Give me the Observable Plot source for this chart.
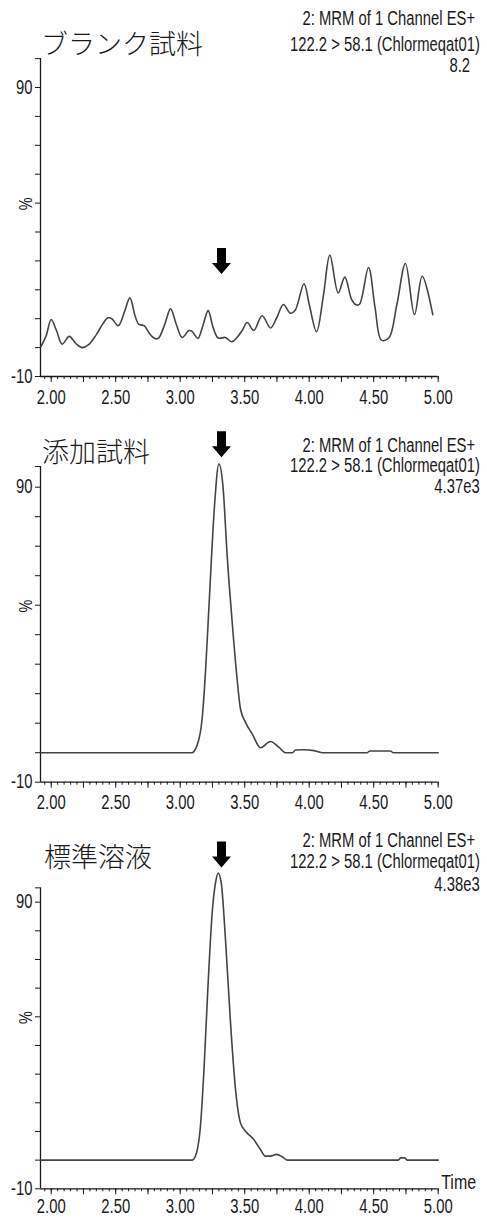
<!DOCTYPE html>
<html><head><meta charset="utf-8">
<script src="https://cdn.jsdelivr.net/npm/d3@7"></script>
<script src="https://cdn.jsdelivr.net/npm/@observablehq/plot@0.6"></script>
<style>
html,body{margin:0;padding:0;background:#fff;}
#wrap{position:relative;width:487px;height:1222px;overflow:hidden;background:#fff;}
.panel{position:absolute;left:0;}
.title{position:absolute;font-family:"Noto Sans CJK JP",sans-serif;font-weight:300;font-size:27px;line-height:1;color:#1a1a1a;white-space:nowrap;}
.hdr{position:absolute;font-size:19.5px;line-height:1;color:#1a1a1a;white-space:nowrap;transform-origin:right center;}
</style></head><body><div id="wrap"></div>
<script>
// ---------------- data ----------------
const panelTitles = ["ブランク試料", "添加試料", "標準溶液"];
const headerLine1 = "2: MRM of 1 Channel ES+";
const headerLine2 = "122.2 > 58.1 (Chlormeqat01)";
const intensities = ["8.2", "4.37e3", "4.38e3"];

const blankTime = [1.92,1.96,2.00,2.04,2.085,2.14,2.19,2.24,2.29,2.35,2.40,2.44,2.47,2.52,2.565,2.61,2.65,2.68,2.72,2.76,2.80,2.83,2.88,2.925,2.97,3.015,3.067,3.09,3.137,3.175,3.217,3.255,3.295,3.35,3.40,3.44,3.48,3.52,3.57,3.635,3.70,3.75,3.80,3.855,3.89,3.96,4.00,4.057,4.11,4.16,4.225,4.276,4.33,4.364,4.39,4.46,4.51,4.56,4.617,4.68,4.746,4.816,4.876,4.958];
const blankPct  = [0.3,4,9.7,6,1.2,3.9,1.5,0,1,4.5,8.2,10.3,10,7.6,12,17.2,11,8,7.6,5,3.2,3.2,8,13.4,8,3.5,5.9,5.7,3.2,7.5,12.8,7,3.3,3.5,2,3.5,5.9,8.7,5.9,11,6.8,10.5,14.9,11.9,12.8,22.1,15,5.5,18,32,18.9,24.4,16.5,14.8,15,27.7,14,2.6,3.3,15,29.1,11.4,24.7,11.4];

const spikedTime = [1.92,3.09,3.13,3.17,3.196,3.23,3.266,3.30,3.333,3.364,3.403,3.436,3.467,3.506,3.558,3.622,3.70,3.764,3.816,3.87,3.894,3.958,4.036,4.10,4.45,4.47,4.63,4.65,5.00];
const spikedPct  = [0,0,2.4,11.5,27.3,55.6,83.8,97.9,89.5,66.8,44.2,27.3,14.9,10.3,6.4,1.7,3.8,1.9,0,0,0.9,1,0.7,0,0,0.6,0.6,0,0];

const standardTime = [1.92,3.093,3.126,3.157,3.183,3.214,3.248,3.274,3.294,3.318,3.351,3.39,3.429,3.467,3.506,3.57,3.622,3.66,3.70,3.747,3.79,3.83,4.69,4.71,4.74,4.76,5.00];
const standardPct  = [0,0,2.5,11.9,30.5,59.5,86.3,96.8,100.2,96.8,77,47.9,24.6,13,10.1,7.2,3.7,1.4,1.4,2.0,1.2,0,0,0.8,0.8,0,0];

const arrowTime = 3.32;
const arrowPct = [30, 104.6, 106.6];
const axisTopPct = [100, 97, 95];
const xDomain = [1.917, 5.0];
const yDomain = [-10, 100];
const xLabelTicks = [2.0, 2.5, 3.0, 3.5, 4.0, 4.5, 5.0];
const yLabelTicks = [-10, 90];
const percentAt = 47.5;

// ---------------- fonts ----------------
const SANS = '"Liberation Sans", Arial, sans-serif';
const SQUEEZE = 0.76;

// ---------------- layout ----------------
const W = 487;
const panels = [
  {top: 0,   h: 410, mt: 58.1, mb: 34,   pad: 8, curve: "catmull-rom", title: {x: 41, cy: 42.5}, hdr: [[18.3, 475], [44, 480], [65.5, 470]]},
  {top: 410, h: 410, mt: 47.2, mb: 38.3, pad: 7, curve: "monotone-x",  title: {x: 42, cy: 451},  hdr: [[445, 475], [465.5, 480], [486, 480]]},
  {top: 820, h: 402, mt: 53,   mb: 33.7, pad: 4, curve: "monotone-x",  title: {x: 44, cy: 856},  hdr: [[840, 475], [861, 480], [884, 480]]}
];
const series = [[blankTime, blankPct], [spikedTime, spikedPct], [standardTime, standardPct]];

const arrowSymbol = {
  draw(ctx) {
    ctx.moveTo(-4.5, -13); ctx.lineTo(4.5, -13); ctx.lineTo(4.5, 2);
    ctx.lineTo(9.5, 2); ctx.lineTo(0, 13); ctx.lineTo(-9.5, 2);
    ctx.lineTo(-4.5, 2); ctx.closePath();
  }
};

const minorX = d3.range(39, 101).map(i => i / 20);
const majorX = d3.range(0, 13).map(i => 2 + i * 0.25);
const isLabel = d => xLabelTicks.some(v => Math.abs(v - d) < 1e-9);
const axisColor = "#1a1a1a";
const lineColor = "#444";

const wrap = document.getElementById("wrap");

panels.forEach((p, i) => {
  const [tt, pp] = series[i];
  const rows = tt.map((t, k) => ({t, v: pp[k]}));
  const yTicks = d3.range(-10, 91, 10).concat([axisTopPct[i]]);
  const marks = [
    Plot.ruleY([yDomain[0]], {stroke: axisColor, strokeWidth: 1.3}),
    Plot.ruleX([xDomain[0]], {y1: yDomain[0], y2: axisTopPct[i], stroke: axisColor, strokeWidth: 1.3}),
    Plot.axisY({ticks: yTicks, tickSize: 5, tickPadding: 3, label: null, stroke: axisColor,
      tickFormat: d => yLabelTicks.includes(d) ? String(d) : ""}),
    Plot.axisX({ticks: minorX, tickSize: 3, label: null, stroke: axisColor, tickFormat: () => ""}),
    Plot.axisX({ticks: majorX, tickSize: 6, tickPadding: p.pad, label: null, stroke: axisColor,
      tickFormat: d => isLabel(d) ? d3.format(".2f")(d) : ""}),
    Plot.line(rows, {x: "t", y: "v", curve: p.curve, stroke: lineColor, strokeWidth: 1.6}),
    Plot.dot([{t: arrowTime, v: arrowPct[i]}], {x: "t", y: "v", symbol: arrowSymbol, r: 10, fill: "#000", stroke: "none"}),
    Plot.text([{v: percentAt, s: "%"}], {y: "v", text: "s", frameAnchor: "left", dx: -15, rotate: -90, fontSize: 19})
  ];
  if (i === 2) marks.push(Plot.text(["Time"], {frameAnchor: "bottom-right", textAnchor: "start", dx: 3, fontSize: 21}));
  const svg = Plot.plot({
    width: W, height: p.h,
    marginLeft: 40, marginRight: W - 437.7, marginTop: p.mt, marginBottom: p.mb,
    x: {domain: xDomain, label: null},
    y: {domain: yDomain, label: null},
    style: {fontFamily: SANS, fontSize: "19.5px", color: axisColor, background: "transparent", overflow: "visible"},
    marks
  });
  const holder = document.createElement("div");
  holder.className = "panel";
  holder.style.top = p.top + "px";
  holder.appendChild(svg);
  wrap.appendChild(holder);
  svg.querySelectorAll("text").forEach(t => {
    const L = t.getComputedTextLength();
    if (L > 0) { t.setAttribute("textLength", (L * SQUEEZE).toFixed(2)); t.setAttribute("lengthAdjust", "spacingAndGlyphs"); }
  });

  const title = document.createElement("div");
  title.className = "title";
  title.textContent = panelTitles[i];
  title.style.left = p.title.x + "px";
  title.style.top = (p.title.cy - 14) + "px";
  wrap.appendChild(title);

  [headerLine1, headerLine2, intensities[i]].forEach((txt, k) => {
    const d = document.createElement("div");
    d.className = "hdr";
    d.textContent = txt;
    d.style.fontFamily = SANS;
    d.style.right = (W - p.hdr[k][1]) + "px";
    d.style.top = (p.hdr[k][0] - 9.5) + "px";
    d.style.transform = `scaleX(${SQUEEZE})`;
    wrap.appendChild(d);
  });
});
</script>
</body></html>
